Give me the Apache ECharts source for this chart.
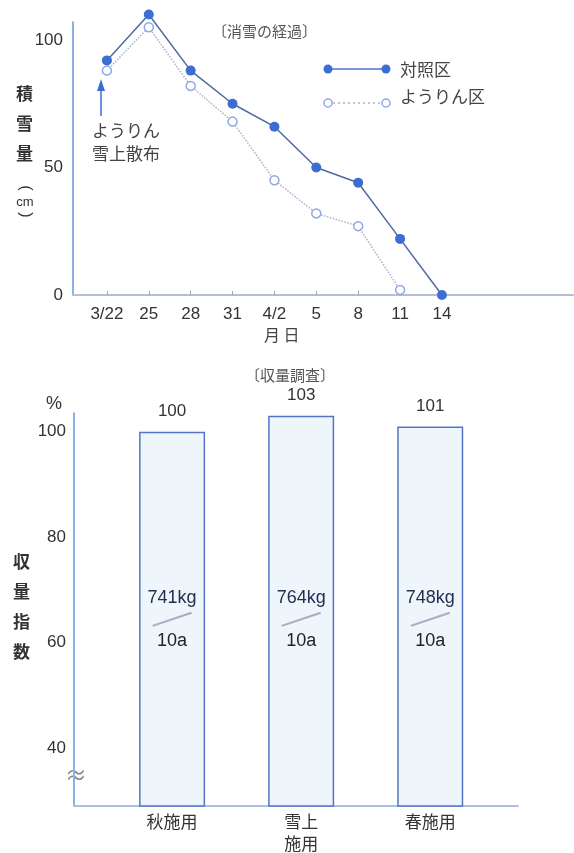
<!DOCTYPE html>
<html><head><meta charset="utf-8">
<script src="https://cdn.jsdelivr.net/npm/echarts@6/dist/echarts.min.js"></script>
<style>html,body{margin:0;padding:0;background:#fff}#c{width:574px;height:853px}</style>
</head><body><div id="c"></div>
<script>
// ---- data: snow melting (top) ----
const dates = ['3/22', '25', '28', '31', '4/2', '5', '8', '11', '14'];
const controlSnow = [92, 110, 88, 75, 66, 50, 44, 22, 0];      // 対照区
const youlinSnow  = [88, 105, 82, 68, 45, 32, 27, 2];          // ようりん区
const snowTicks = [0, 50, 100];
// ---- data: yield survey (bottom) ----
const methods = ['秋施用', '雪上\n施用', '春施用'];
const yieldIndex = [100, 103, 101];
const yieldKg = [741, 764, 748];
const yieldTicks = [40, 60, 80, 100];

const FONT = '"Liberation Sans", "Noto Sans CJK JP", sans-serif';
const JP = '"Noto Sans CJK JP", sans-serif';
const KG_LABEL_Y = 64.4;
const idx = a => a.map((v, i) => [i, v]);

const chart = echarts.init(document.getElementById('c'), null, {renderer: 'canvas'});
chart.setOption({
  animation: false,
  textStyle: {fontFamily: FONT},
  grid: [
    {left: 73, right: 1, top: 22.15, bottom: 558, outerBoundsMode: 'none', containLabel: false},
    {left: 74, right: 56, top: 413.2, bottom: 47, outerBoundsMode: 'none', containLabel: false}
  ],
  xAxis: [
    {gridIndex: 0, type: 'value', min: -0.81, max: 11.13, splitLine: {show: false},
     axisLine: {show: true, onZero: false, lineStyle: {color: '#b4bfd2', width: 2}},
     axisTick: {show: true, inside: true, length: 4, customValues: dates.map((d, i) => i), lineStyle: {color: '#9aa6bb'}},
     axisLabel: {customValues: dates.map((d, i) => i), formatter: v => dates[Math.round(v)], color: '#333', fontSize: 17, margin: 11, fontFamily: FONT}},
    {gridIndex: 1, type: 'value', min: -0.76, max: 2.68, splitLine: {show: false},
     axisLine: {show: true, onZero: false, lineStyle: {color: '#a9c0e2', width: 2}},
     axisTick: {show: false},
     axisLabel: {customValues: methods.map((d, i) => i), formatter: v => methods[Math.round(v)], color: '#333', fontSize: 17, lineHeight: 22, margin: 5, verticalAlign: 'top', fontFamily: JP}}
  ],
  yAxis: [
    {gridIndex: 0, type: 'value', min: 0, max: 107, splitLine: {show: false},
     axisLine: {show: true, onZero: false, lineStyle: {color: '#8eb0e2', width: 2}},
     axisTick: {show: false},
     axisLabel: {customValues: snowTicks, color: '#333', fontSize: 17, margin: 10, fontFamily: FONT}},
    {gridIndex: 1, type: 'value', min: 29, max: 103.5, splitLine: {show: false},
     axisLine: {show: true, onZero: false, lineStyle: {color: '#8eb0e2', width: 2}},
     axisTick: {show: false},
     axisLabel: {customValues: yieldTicks, color: '#333', fontSize: 17, margin: 8, fontFamily: FONT}}
  ],
  series: [
    {name: 'ようりん区', type: 'line', xAxisIndex: 0, yAxisIndex: 0, clip: false,
     data: idx(youlinSnow), symbol: 'circle', symbolSize: 9,
     lineStyle: {color: '#a9b2c8', width: 1.5, type: 'dotted'},
     itemStyle: {color: '#fff', borderColor: '#8fa9e3', borderWidth: 1.5}},
    {name: '対照区', type: 'line', xAxisIndex: 0, yAxisIndex: 0, clip: false,
     data: idx(controlSnow), symbol: 'circle', symbolSize: 10,
     lineStyle: {color: '#4f69a3', width: 1.5},
     itemStyle: {color: '#3c6ed2'}},
    {name: '収量指数', type: 'bar', xAxisIndex: 1, yAxisIndex: 1, clip: true,
     data: idx(yieldIndex), barWidth: 66,
     itemStyle: {color: '#eef6fc', borderColor: '#5574c4', borderWidth: 1.5},
     label: {show: true, position: 'top', distance: 12, color: '#333', fontSize: 17, fontFamily: FONT}},
    {name: '収量', type: 'scatter', xAxisIndex: 1, yAxisIndex: 1, clip: false, z: 5,
     data: yieldKg.map((v, i) => [i, KG_LABEL_Y]),
     symbol: 'path://M0,14 L39,0 L40,2 L1,16 Z', symbolSize: [40, 15],
     itemStyle: {color: '#a9b0c2', opacity: 1},
     label: {show: true, position: 'inside', fontFamily: FONT,
       formatter: p => '{a|' + yieldKg[p.dataIndex] + 'kg}\n{b|10a}',
       rich: {a: {fontSize: 18, lineHeight: 43, color: '#22304f', fontFamily: FONT},
              b: {fontSize: 18, lineHeight: 43, color: '#222', fontFamily: FONT}}}}
  ],
  graphic: [
    {type: 'text', left: 212, top: 24, style: {text: '〔消雪の経過〕', fill: '#555', fontSize: 15, fontFamily: JP}},
    {type: 'text', left: 16, top: 79, style: {text: '積\n雪\n量', fill: '#333', fontSize: 17, lineHeight: 30, fontWeight: 'bold', fontFamily: JP}},
    {type: 'text', x: 25, y: 188, rotation: -Math.PI / 2, style: {text: '(', fill: '#333', fontSize: 16, align: 'center', verticalAlign: 'middle', fontFamily: FONT}},
    {type: 'text', x: 25, y: 202, style: {text: 'cm', fill: '#333', fontSize: 13, align: 'center', verticalAlign: 'middle', fontFamily: FONT}},
    {type: 'text', x: 25, y: 215, rotation: -Math.PI / 2, style: {text: ')', fill: '#333', fontSize: 16, align: 'center', verticalAlign: 'middle', fontFamily: FONT}},
    // legend
    {type: 'line', shape: {x1: 328, y1: 69, x2: 386, y2: 69}, style: {stroke: '#4a72c8', lineWidth: 1.5}},
    {type: 'circle', shape: {cx: 328, cy: 69, r: 4.5}, style: {fill: '#3c6ed2'}},
    {type: 'circle', shape: {cx: 386, cy: 69, r: 4.5}, style: {fill: '#3c6ed2'}},
    {type: 'text', left: 400, top: 61, style: {text: '対照区', fill: '#444', fontSize: 17, fontFamily: JP}},
    {type: 'line', shape: {x1: 328, y1: 103, x2: 386, y2: 103}, style: {stroke: '#a9b2c8', lineWidth: 1.5, lineDash: [2, 3]}},
    {type: 'circle', shape: {cx: 328, cy: 103, r: 4}, style: {fill: '#fff', stroke: '#8fa9e3', lineWidth: 1.5}},
    {type: 'circle', shape: {cx: 386, cy: 103, r: 4}, style: {fill: '#fff', stroke: '#8fa9e3', lineWidth: 1.5}},
    {type: 'text', left: 400, top: 88, style: {text: 'ようりん区', fill: '#444', fontSize: 17, fontFamily: JP}},
    // annotation arrow
    {type: 'line', shape: {x1: 101, y1: 116, x2: 101, y2: 88}, style: {stroke: '#3c6ed2', lineWidth: 1.5}},
    {type: 'polygon', shape: {points: [[101, 79], [97, 91], [105, 91]]}, style: {fill: '#3c6ed2'}},
    {type: 'text', left: 92, top: 119, style: {text: 'ようりん\n雪上散布', fill: '#444', fontSize: 17, lineHeight: 23, fontFamily: JP}},
    {type: 'text', left: 264, top: 327, style: {text: '月 日', fill: '#444', fontSize: 16, fontFamily: JP}},
    // bottom chart texts
    {type: 'text', left: 245, top: 368, style: {text: '〔収量調査〕', fill: '#555', fontSize: 15, fontFamily: JP}},
    {type: 'text', left: 46, top: 395, style: {text: '%', fill: '#333', fontSize: 18, fontFamily: FONT}},
    {type: 'text', left: 13, top: 547, style: {text: '収\n量\n指\n数', fill: '#333', fontSize: 17, lineHeight: 30, fontWeight: 'bold', fontFamily: JP}},
    {type: 'text', x: 76, y: 775, style: {text: '≈', fill: '#888', fontSize: 22, align: 'center', verticalAlign: 'middle', fontFamily: JP}}
  ]
});
</script>
</body></html>
